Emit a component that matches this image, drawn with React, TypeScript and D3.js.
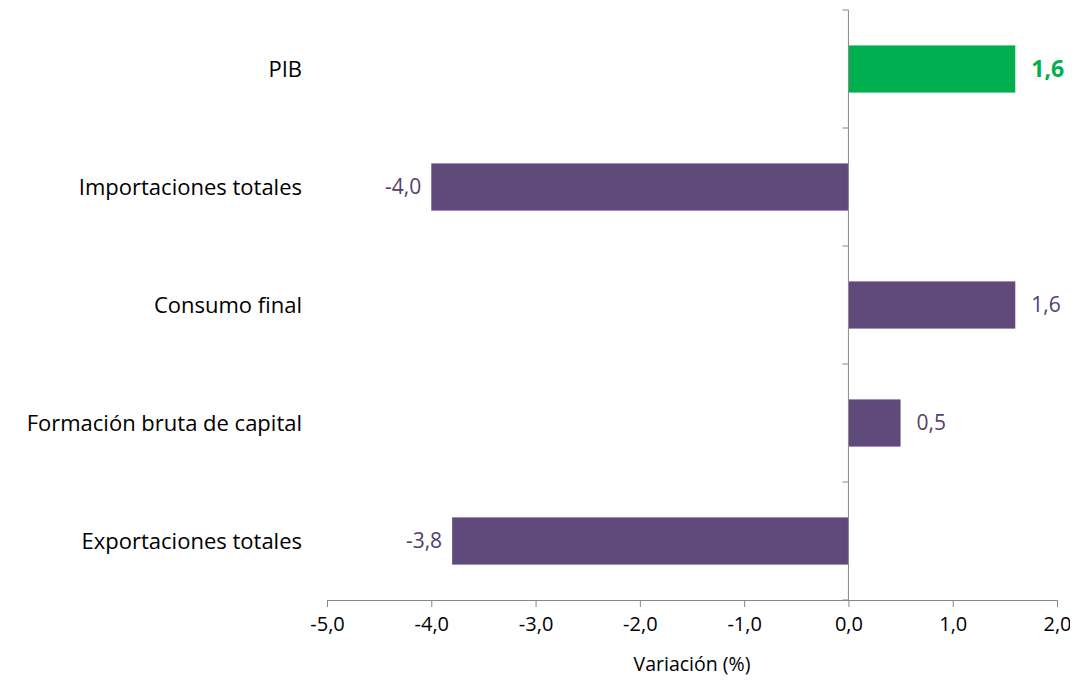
import { useRef, useEffect } from "react";
import * as d3 from "d3";

const categories = ["PIB", "Importaciones totales", "Consumo final", "Formación bruta de capital", "Exportaciones totales"];
const values = [1.6, -4.0, 1.6, 0.5, -3.8];
const highlight = [true, false, false, false, false];
const xTicks = [-5, -4, -3, -2, -1, 0, 1, 2];

export default function App() {
  const svgRef = useRef<SVGSVGElement>(null);

  useEffect(() => {
    if (!svgRef.current) return;
    const svg = d3.select(svgRef.current);
    svg.selectAll("*").remove();
    const font = "Open Sans, sans-serif";

    const x = d3.scaleLinear().domain([-5, 2]).range([319, 1049]);
    const y = d3.scaleBand().domain(categories).range([2, 592]).paddingInner(0.6).paddingOuter(0.3);
    const step = y.step();

    const g = svg.append("g");
    const fmt = (v: number) => v.toFixed(1).replace(".", ",");

    categories.forEach((c, i) => {
      const v = values[i];
      const hl = highlight[i];
      g.append("rect")
        .attr("x", x(Math.min(0, v)))
        .attr("y", y(c)!)
        .attr("width", Math.abs(x(v) - x(0)))
        .attr("height", y.bandwidth())
        .attr("fill", hl ? "#00B050" : "#604A7B");
      g.append("text")
        .attr("x", v >= 0 ? x(v) + 16 : x(v) - 10)
        .attr("y", y(c)! + y.bandwidth() / 2)
        .attr("dy", "0.35em")
        .attr("text-anchor", v >= 0 ? "start" : "end")
        .attr("font-family", font)
        .attr("font-size", hl ? 23 : 21)
        .attr("font-weight", hl ? "bold" : "normal")
        .attr("fill", hl ? "#00B050" : "#54416C")
        .text(fmt(v));
      g.append("text")
        .attr("x", 294)
        .attr("y", y(c)! + y.bandwidth() / 2)
        .attr("dy", "0.35em")
        .attr("text-anchor", "end")
        .attr("font-family", font)
        .attr("font-size", 22)
        .attr("fill", "#000")
        .text(c);
    });

    const x0 = x(0);
    g.append("line").attr("x1", x0).attr("x2", x0).attr("y1", 2).attr("y2", 592).attr("stroke", "#888");
    for (let i = 0; i <= categories.length; i++) {
      const yy = 2 + i * step;
      g.append("line").attr("x1", x0 - 6).attr("x2", x0).attr("y1", yy).attr("y2", yy).attr("stroke", "#888");
    }

    const ax = g.append("g").attr("transform", "translate(0,592)")
      .call(d3.axisBottom(x).tickValues(xTicks).tickSize(7).tickSizeOuter(0).tickFormat((d) => fmt(+d)));
    ax.selectAll(".domain, .tick line").attr("stroke", "#888");
    ax.selectAll("text").attr("font-family", font).attr("font-size", 20).attr("fill", "#000").attr("dy", "1.05em");

    g.append("text")
      .attr("x", x(-1.5))
      .attr("y", 663)
      .attr("text-anchor", "middle")
      .attr("font-family", font)
      .attr("font-size", 19.5)
      .text("Variación (%)");
  }, []);

  return <svg ref={svgRef} width={1070} height={678} style={{ display: "block" }} />;
}
